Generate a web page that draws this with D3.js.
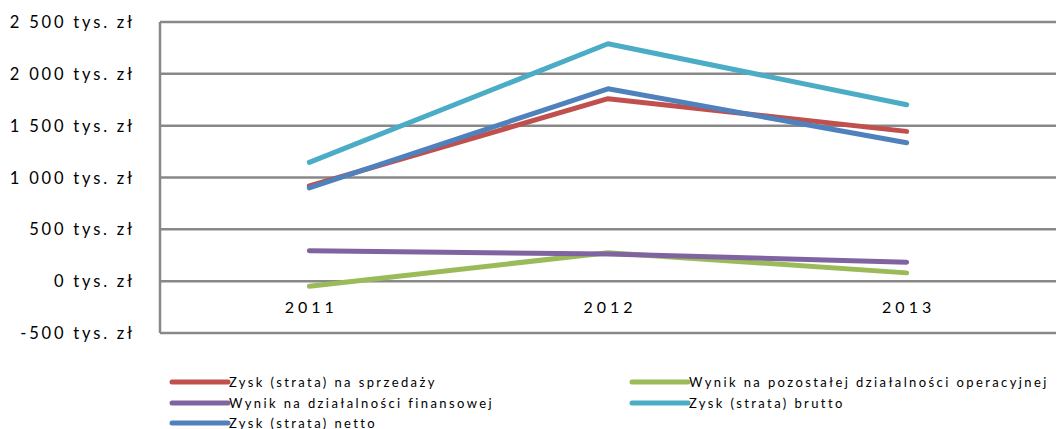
<!DOCTYPE html>
<html>
<head>
<meta charset="utf-8">
<script src="https://cdn.jsdelivr.net/npm/d3@7.9.0/dist/d3.min.js"></script>
<style>
  body { margin: 0; background: #fff; }
  svg { display: block; font-family: Lato, "Open Sans", sans-serif; }
</style>
</head>
<body>
<div id="chart"></div>
<script>
const years = ["2011", "2012", "2013"];
const seriesNames = [
    "Zysk (strata) na sprzedaży",
    "Wynik na pozostałej działalności operacyjnej",
    "Wynik na działalności finansowej",
    "Zysk (strata) brutto",
    "Zysk (strata) netto"
];
const seriesColors = ["#C0504D", "#9BBB59", "#8064A2", "#4BACC6", "#4F81BD"];
const sprzedaz = [920, 1760, 1445];
const pozostala = [-48, 275, 80];
const finansowa = [293, 262, 183];
const brutto = [1146, 2290, 1702];
const netto = [900, 1856, 1335];
const yTicks = [-500, 0, 500, 1000, 1500, 2000, 2500];

const allSeries = [sprzedaz, pozostala, finansowa, brutto, netto];

const width = 1058, height = 429;
const margin = { top: 22, right: 2, bottom: 96, left: 160 };

const svg = d3.select("#chart").append("svg")
    .attr("width", width)
    .attr("height", height);

const xScale = d3.scaleBand()
    .domain(years)
    .range([margin.left, width - margin.right]);

const yScale = d3.scaleLinear()
    .domain([-500, 2500])
    .range([height - margin.bottom, margin.top]);

const fmt = v => {
    const s = Math.abs(v).toString().replace(/\B(?=(\d{3})+(?!\d))/g, " ");
    return (v < 0 ? "-" : "") + s + " tys. zł";
};

// gridlines
svg.append("g")
    .selectAll("line")
    .data(yTicks)
    .join("line")
    .attr("x1", margin.left)
    .attr("x2", width - margin.right)
    .attr("y1", d => yScale(d))
    .attr("y2", d => yScale(d))
    .attr("stroke", "#888")
    .attr("stroke-width", 2.5);

svg.append("line")
    .attr("x1", margin.left)
    .attr("x2", margin.left)
    .attr("y1", yScale(2500))
    .attr("y2", yScale(-500))
    .attr("stroke", "#888")
    .attr("stroke-width", 2.5);

// y labels
svg.append("g")
    .selectAll("text")
    .data(yTicks)
    .join("text")
    .attr("x", 135)
    .attr("y", d => yScale(d) + 6)
    .attr("text-anchor", "end")
    .attr("fill", "#000")
    .style("font-size", "16.5px")
    .style("letter-spacing", "2.8px")
    .text(fmt);

// x labels
svg.append("g")
    .selectAll("text")
    .data(years)
    .join("text")
    .attr("x", d => xScale(d) + xScale.bandwidth() / 2 + 2)
    .attr("y", yScale(-250) + 6)
    .attr("text-anchor", "middle")
    .attr("fill", "#000")
    .style("font-size", "16px")
    .style("letter-spacing", "4px")
    .text(d => d);

const line = d3.line()
    .x((d, i) => xScale(years[i]) + xScale.bandwidth() / 2)
    .y(d => yScale(d));

svg.append("g")
    .selectAll("path")
    .data(allSeries)
    .join("path")
    .attr("d", line)
    .attr("fill", "none")
    .attr("stroke", (_, i) => seriesColors[i])
    .attr("stroke-width", 5)
    .attr("stroke-linejoin", "round")
    .attr("stroke-linecap", "round");

// legend
const legendPos = [
    { x: 172, y: 382 },
    { x: 632, y: 382 },
    { x: 172, y: 403 },
    { x: 632, y: 403 },
    { x: 172, y: 423 }
];
const legend = svg.append("g")
    .selectAll("g")
    .data(seriesNames)
    .join("g")
    .attr("transform", (_, i) => "translate(" + legendPos[i].x + "," + legendPos[i].y + ")");
legend.append("line")
    .attr("x1", 0)
    .attr("x2", 56)
    .attr("stroke", (_, i) => seriesColors[i])
    .attr("stroke-width", 5)
    .attr("stroke-linecap", "round");
legend.append("text")
    .attr("x", 57)
    .attr("y", 5)
    .attr("fill", "#000")
    .style("font-size", "13px")
    .style("letter-spacing", "2.4px")
    .text(d => d);
</script>
</body>
</html>
